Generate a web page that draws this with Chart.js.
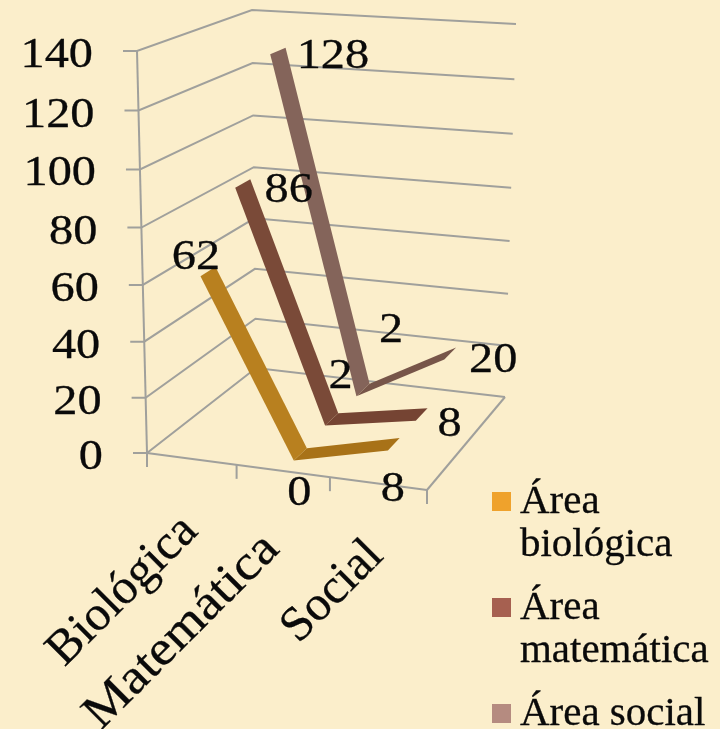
<!DOCTYPE html>
<html>
<head>
<meta charset="utf-8">
<style>
html, body { margin: 0; padding: 0; background: #fbeecb; overflow: hidden; }
canvas { display: block; }
</style>
<script src="https://cdn.jsdelivr.net/npm/chart.js@4"></script>
</head>
<body>
<canvas id="chart" width="720" height="729"></canvas>
<script>
var categories = ['Biológica', 'Matemática', 'Social'];
var seriesNames = ['Área biológica', 'Área matemática', 'Área social'];
var biologica = [62, 0, 8];
var matematica = [86, 2, 8];
var social = [128, 2, 20];

var legendColors = ['#efa22c', '#a66050', '#b58b80'];
var ribbonColors = [['#b8801f', '#a87218'], ['#7a4a38', '#754433'], ['#84645a', '#775549']];

// corners of the 3D box on the page: [left/right][front/back][floor/top]
var box = {
    lfb: [147, 453], lft: [137, 51],
    rfb: [427, 490], rft: [432, 73],
    lbb: [256, 368], lbt: [252, 10],
    rbb: [505, 397], rbt: [516, 24]
};
var gridColor = '#a0a09c';
var textColor = '#0a0a0a';
var ribbonDepth = 0.14;
var depthShift = 0.02;
// where each data label sits relative to its point
var labelOffsets = [
    [[-12, -3], [-1, 51], [-1, 57]],
    [[46, 18], [9, -31], [28, 22]],
    [[55, 17], [28, -48], [43, 18]]
];
// end of each rotated category label relative to its slot, and its stretch
var categoryAnchors = [[8, 74], [-2, 80], [7, 74]];
var categoryStretch = [1.0, 1.1, 1.0];

function mix(a, b, t) {
    return [a[0] + (b[0] - a[0]) * t, a[1] + (b[1] - a[1]) * t];
}

// c, d, v are 0..1 along category, depth and value
function project(c, d, v) {
    // slight foreshortening, the chart is seen in perspective
    c = c * (1 - 0.06 * (1 - c));
    v = v * (1 - 0.043 * (1 - v));
    var floor = mix(mix(box.lfb, box.rfb, c), mix(box.lbb, box.rbb, c), d);
    var top = mix(mix(box.lft, box.rft, c), mix(box.lbt, box.rbt, c), d);
    return mix(floor, top, v);
}

function fracX(scale, value) {
    return (scale.getPixelForValue(value) - scale.left) / scale.width;
}

function fracY(scale, value) {
    return (scale.bottom - scale.getPixelForValue(value)) / scale.height;
}

function line(ctx, a, b) {
    ctx.beginPath();
    ctx.moveTo(a[0], a[1]);
    ctx.lineTo(b[0], b[1]);
    ctx.stroke();
}

function drawText(ctx, text, x, y, align, size, stretch, angle) {
    ctx.save();
    ctx.translate(x, y);
    if (angle) ctx.rotate(angle);
    ctx.scale(stretch, 1);
    ctx.font = size + 'px "Liberation Serif"';
    ctx.fillStyle = textColor;
    ctx.strokeStyle = textColor;
    ctx.lineWidth = 0.3;
    ctx.textAlign = align;
    ctx.textBaseline = 'alphabetic';
    ctx.fillText(text, 0, 0);
    ctx.strokeText(text, 0, 0);
    ctx.restore();
}

function drawWalls(chart) {
    var ctx = chart.ctx, xs = chart.scales.x, ys = chart.scales.y;
    ctx.save();
    ctx.strokeStyle = gridColor;
    ctx.lineWidth = 2;

    ys.ticks.forEach(function (tick) {
        var v = fracY(ys, tick.value);
        var front = project(0, 0, v), back = project(0, 1, v), right = project(1, 1, v);
        ctx.beginPath();
        ctx.moveTo(front[0] - 14, front[1]);
        ctx.lineTo(front[0], front[1]);
        ctx.lineTo(back[0], back[1]);
        ctx.lineTo(right[0], right[1]);
        ctx.stroke();
    });
    line(ctx, project(0, 0, 0), project(0, 0, 1));

    // floor edges and the category ticks
    line(ctx, project(0, 0, 0), project(1, 0, 0));
    line(ctx, project(1, 0, 0), project(1, 1, 0));
    for (var i = 0; i <= categories.length; i++) {
        var p = project(fracX(xs, i - 0.5), 0, 0);
        line(ctx, p, [p[0], p[1] + 14]);
    }
    ctx.restore();

    ys.ticks.forEach(function (tick) {
        var p = project(0, 0, fracY(ys, tick.value));
        drawText(ctx, String(tick.value), p[0] - 44, p[1] + 16, 'right', 42, 1.15);
    });
    categories.forEach(function (name, i) {
        var p = project(fracX(xs, i), 0, 0);
        drawText(ctx, name, p[0] + categoryAnchors[i][0], p[1] + categoryAnchors[i][1], 'right', 49, categoryStretch[i], -Math.PI / 4);
    });
}

function drawRibbons(chart) {
    var ctx = chart.ctx, xs = chart.scales.x, ys = chart.scales.y, zs = chart.scales.depth;
    // back series first so the front ones cover them
    for (var s = chart.data.datasets.length - 1; s >= 0; s--) {
        var values = chart.data.datasets[s].data;
        var d = fracX(zs, s) + depthShift;
        for (var i = 0; i < values.length - 1; i++) {
            var c0 = fracX(xs, i), c1 = fracX(xs, i + 1);
            var v0 = fracY(ys, values[i]), v1 = fracY(ys, values[i + 1]);
            var a = project(c0, d - ribbonDepth / 2, v0);
            var b = project(c1, d - ribbonDepth / 2, v1);
            var e = project(c1, d + ribbonDepth / 2, v1);
            var f = project(c0, d + ribbonDepth / 2, v0);
            ctx.fillStyle = ribbonColors[s][i];
            ctx.beginPath();
            ctx.moveTo(a[0], a[1]);
            ctx.lineTo(b[0], b[1]);
            ctx.lineTo(e[0], e[1]);
            ctx.lineTo(f[0], f[1]);
            ctx.closePath();
            ctx.fill();
        }
    }
}

function drawLabels(chart) {
    var ctx = chart.ctx, xs = chart.scales.x, ys = chart.scales.y, zs = chart.scales.depth;
    chart.data.datasets.forEach(function (dataset, s) {
        dataset.data.forEach(function (value, i) {
            var p = project(fracX(xs, i), fracX(zs, s) + depthShift, fracY(ys, value));
            drawText(ctx, String(value), p[0] + labelOffsets[s][i][0], p[1] + labelOffsets[s][i][1], 'center', 42, 1.15);
        });
    });
}

function drawLegend(chart) {
    var ctx = chart.ctx, size = 39, stretch = 1.05;
    seriesNames.forEach(function (name, s) {
        var top = 492 + s * 106;
        ctx.fillStyle = legendColors[s];
        ctx.fillRect(492, top, 19, 19);
        ctx.font = size + 'px "Liberation Serif"';
        var rows = ctx.measureText(name).width * stretch > 200 ? name.split(' ') : [name];
        rows.forEach(function (row, r) {
            drawText(ctx, row, 520, top + 21 + r * 43, 'left', size, stretch);
        });
    });
}

var chart3d = {
    id: 'chart3d',
    beforeDatasetsDraw: function (chart) {
        drawWalls(chart);
        drawRibbons(chart);
        drawLabels(chart);
        drawLegend(chart);
    }
};

new Chart(document.getElementById('chart').getContext('2d'), {
    type: 'line',
    data: {
        labels: categories,
        datasets: [
            { label: seriesNames[0], data: biologica, showLine: false, pointRadius: 0 },
            { label: seriesNames[1], data: matematica, showLine: false, pointRadius: 0 },
            { label: seriesNames[2], data: social, showLine: false, pointRadius: 0 }
        ]
    },
    options: {
        responsive: false,
        animation: false,
        plugins: { legend: { display: false }, tooltip: { enabled: false } },
        scales: {
            x: { type: 'category', offset: true, display: false },
            y: { min: 0, max: 140, ticks: { stepSize: 20 }, display: false },
            depth: { type: 'category', axis: 'x', labels: seriesNames, offset: true, display: false }
        }
    },
    plugins: [chart3d]
});
</script>
</body>
</html>
